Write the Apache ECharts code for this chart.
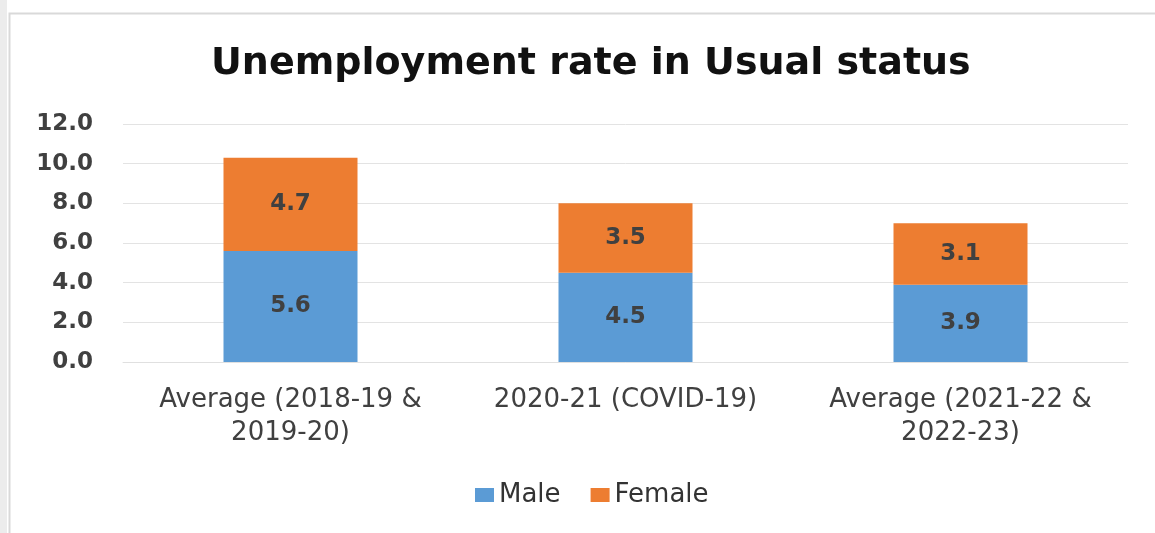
<!DOCTYPE html>
<html>
<head>
<meta charset="utf-8">
<script src="https://cdn.jsdelivr.net/npm/echarts@6/dist/echarts.min.js"></script>
<style>
  html, body { margin: 0; padding: 0; background: #fff; }
  #chart { width: 1155px; height: 533px; }
</style>
</head>
<body>
<div id="chart"></div>
<script>
// values
const categories = ['Average (2018-19 &\n2019-20)', '2020-21 (COVID-19)', 'Average (2021-22 &\n2022-23)']
const male = [5.6, 4.5, 3.9]
const female = [4.7, 3.5, 3.1]
const yTicks = { min: 0, max: 12, interval: 2 }

const font = `'DejaVu Sans', Verdana, sans-serif`

const chart = echarts.init(document.getElementById('chart'))

const labelStyle = {
  show: true,
  position: 'inside',
  color: '#404040',
  fontWeight: 'bold',
  fontSize: 23,
  fontFamily: font,
  formatter: p => p.value.toFixed(1)
}

chart.setOption({
  animation: false,
  graphic: [
    { type: 'rect', left: 0, top: 0, shape: { width: 7, height: 533 }, style: { fill: '#ececec' } },
    { type: 'rect', left: 7, top: 11, shape: { width: 1160, height: 540 }, style: { fill: 'none', stroke: '#d9d9d9', lineWidth: 2 } }
  ],
  title: {
    text: 'Unemployment rate in Usual status',
    left: 206,
    top: 40,
    textStyle: {
      color: '#111',
      fontWeight: 'bold',
      fontSize: 38,
      fontFamily: font
    }
  },
  legend: {
    bottom: 20,
    left: 470,
    itemWidth: 19,
    itemHeight: 14,
    itemGap: 30,
    icon: 'rect',
    textStyle: { color: '#333', fontSize: 26, fontFamily: font }
  },
  grid: { left: 123, right: 27, top: 124, bottom: 171 },
  xAxis: {
    type: 'category',
    data: categories,
    axisLine: { lineStyle: { color: '#e0e0e0' } },
    axisTick: { show: false },
    axisLabel: {
      interval: 0,
      hideOverlap: false,
      color: '#404040',
      fontSize: 26,
      lineHeight: 33,
      margin: 22,
      fontFamily: font
    }
  },
  yAxis: {
    type: 'value',
    min: yTicks.min,
    max: yTicks.max,
    interval: yTicks.interval,
    axisLine: { show: false },
    axisTick: { show: false },
    splitLine: { lineStyle: { color: '#e3e3e3' } },
    axisLabel: {
      color: '#404040',
      fontSize: 23,
      fontWeight: 'bold',
      margin: 30,
      fontFamily: font,
      formatter: v => v.toFixed(1)
    }
  },
  series: [
    {
      name: 'Male',
      type: 'bar',
      stack: 'total',
      barWidth: 134,
      itemStyle: { color: '#5b9bd5' },
      label: labelStyle,
      data: male
    },
    {
      name: 'Female',
      type: 'bar',
      stack: 'total',
      barWidth: 134,
      itemStyle: { color: '#ed7d31' },
      label: labelStyle,
      data: female
    }
  ]
})
</script>
</body>
</html>
